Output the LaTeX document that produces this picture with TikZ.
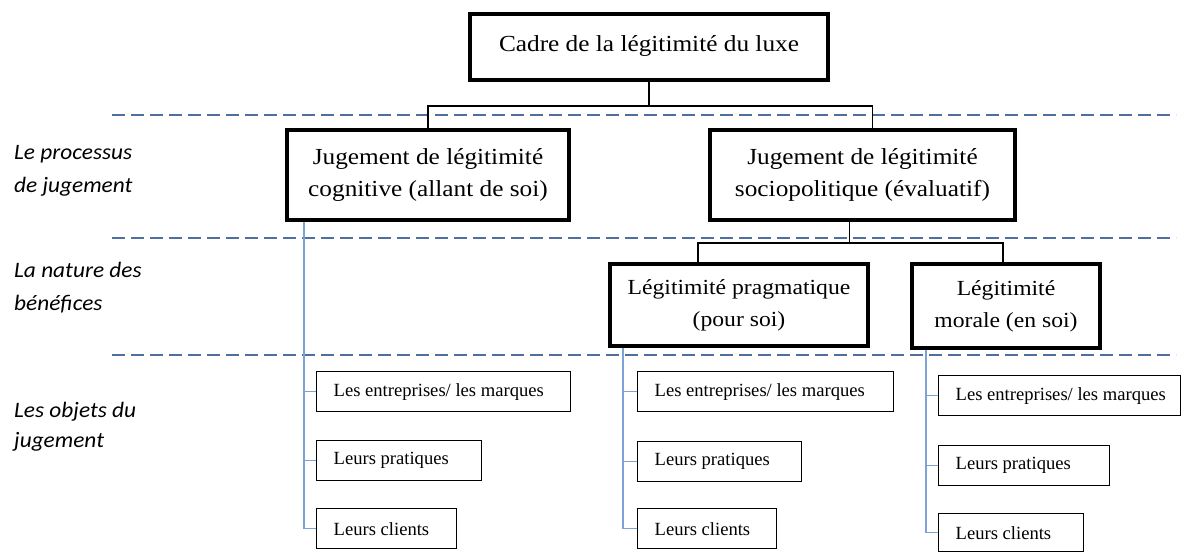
\documentclass[tikz,border=0pt]{standalone}
\usepackage{fontspec}
\setmainfont{Liberation Serif}
\newfontfamily\boxfont[FakeStretch=1.1]{Liberation Serif}
\newfontfamily\labfont[FakeStretch=1.06]{Carlito}
\definecolor{dashblue}{HTML}{4F6F9F}
\definecolor{treeblue}{HTML}{7DA2D6}
\newcommand{\sbtext}[2]{\makebox[#1][l]{#2}}
\begin{document}
\begin{tikzpicture}[x=1pt,y=-1pt,
  bigbox/.style={draw=black,line width=4pt,align=center,inner sep=0pt,anchor=north west,
    font=\boxfont\fontsize{23}{32}\selectfont},
  midbox/.style={bigbox,font=\boxfont\fontsize{21.5}{32}\selectfont},
  smallbox/.style={draw=black,line width=1.3pt,inner ysep=0pt,inner xsep=17pt,
    anchor=north west,font=\fontsize{18.6}{22}\selectfont},
  lab/.style={anchor=base west,inner sep=0pt,font=\labfont\itshape\fontsize{22}{31}\selectfont},
  conn/.style={draw=black,line width=1.5pt},
  tree/.style={draw=treeblue,line width=1.2pt},
  sep/.style={draw=dashblue,line width=1.5pt,dash pattern=on 13pt off 6pt}]
\useasboundingbox (0,0) rectangle (1184,552);
\fill[white] (0,0) rectangle (1184,552);

% separators
\draw[sep] (112,115) -- (1176,115);
\draw[sep] (112,238) -- (1176,238);
\draw[sep] (112,355) -- (1176,355);

% left labels
\node[lab] (l1a) at (14,159) {Le processus};
\node[lab] (l1b) at (14,192) {de jugement};
\node[lab] (l2a) at (14,277) {La nature des};
\node[lab] (l2b) at (14,310) {bénéfices};
\node[lab] (l3a) at (14,417) {Les objets du};
\node[lab] (l3b) at (14,447) {jugement};

% main boxes
\node[bigbox,minimum width=358pt,minimum height=66pt] (top) at (468,12) {\raisebox{6pt}{Cadre de la légitimité du luxe}};
\node[bigbox,minimum width=282pt,minimum height=90pt] (cog) at (285,128) {Jugement de légitimité\\cognitive (allant de soi)};
\node[bigbox,minimum width=305pt,minimum height=90pt] (socio) at (708,128) {Jugement de légitimité\\sociopolitique (évaluatif)};
\node[midbox,minimum width=258pt,minimum height=82pt] (prag) at (608,262) {Légitimité pragmatique\\(pour soi)};
\node[midbox,minimum width=188pt,minimum height=84pt] (moral) at (910,262) {Légitimité\\morale (en soi)};

% connectors
\draw[conn] (top.south) -- ++(0,24) -| (cog.north);
\draw[conn] (top.south) ++(0,24) -| ([xshift=10pt]socio.north);
\draw[conn] ([xshift=-13pt]socio.south) -- ++(0,21) -| ([xshift=-41pt]prag.north);
\draw[conn] ([xshift=-13pt]socio.south) ++(0,21) -| ([xshift=-3pt]moral.north);

% column 1
\node[smallbox,minimum height=40pt] (a1) at (316,371) {\sbtext{220pt}{Les entreprises/ les marques}};
\node[smallbox,minimum height=40pt] (a2) at (316,440) {\sbtext{131pt}{Leurs pratiques}};
\node[smallbox,minimum height=40pt] (a3) at (316,508) {\sbtext{106pt}{Leurs clients}};
% column 2
\node[smallbox,minimum height=40pt] (b1) at (637,371) {\sbtext{222pt}{Les entreprises/ les marques}};
\node[smallbox,minimum height=40pt] (b2) at (637,441) {\sbtext{130pt}{Leurs pratiques}};
\node[smallbox,minimum height=40pt] (b3) at (637,508) {\sbtext{105pt}{Leurs clients}};
% column 3
\node[smallbox,minimum height=40pt] (c1) at (938,375) {\sbtext{208pt}{Les entreprises/ les marques}};
\node[smallbox,minimum height=40pt] (c2) at (938,445) {\sbtext{137pt}{Leurs pratiques}};
\node[smallbox,minimum height=38pt] (c3) at (938,513) {\sbtext{111pt}{Leurs clients}};

% tree lines
\coordinate (v1) at ([xshift=19pt]cog.south west);
\coordinate (v2) at ([xshift=15pt]prag.south west);
\coordinate (v3) at ([xshift=16pt]moral.south west);
\draw[tree] (v1) -- (v1 |- a3.west) -- (a3.west);
\draw[tree] (v1 |- a1.west) -- (a1.west);
\draw[tree] (v1 |- a2.west) -- (a2.west);
\draw[tree] (v2) -- (v2 |- b3.west) -- (b3.west);
\draw[tree] (v2 |- b1.west) -- (b1.west);
\draw[tree] (v2 |- b2.west) -- (b2.west);
\draw[tree] (v3) -- (v3 |- c3.west) -- (c3.west);
\draw[tree] (v3 |- c1.west) -- (c1.west);
\draw[tree] (v3 |- c2.west) -- (c2.west);
\end{tikzpicture}
\end{document}
